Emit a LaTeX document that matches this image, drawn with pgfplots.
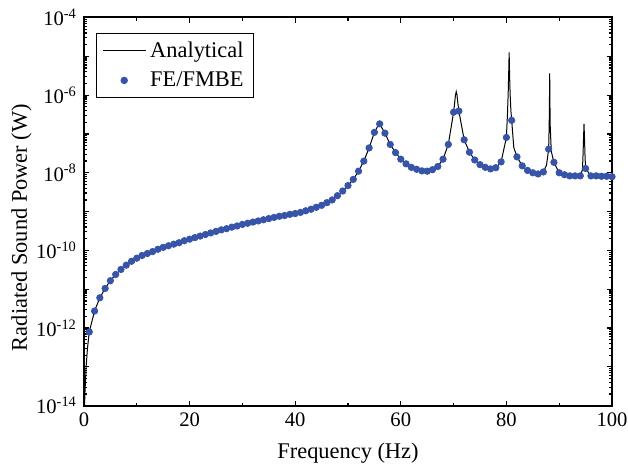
\documentclass[border=0pt]{standalone}
\usepackage{fontspec}
\setmainfont{Liberation Serif}
\usepackage{pgfplots}
\pgfplotsset{compat=1.18}
\definecolor{dotblue}{RGB}{56,84,168}

% FE/FMBE results, one point per Hz
\pgfplotstableread{
f     p
1     7.94e-13
2     2.75e-12
3     6.03e-12
4     1.05e-11
5     1.66e-11
6     2.40e-11
7     3.24e-11
8     4.17e-11
9     5.25e-11
10    6.31e-11
11    7.41e-11
12    8.32e-11
13    9.33e-11
14    1.07e-10
15    1.20e-10
16    1.32e-10
17    1.45e-10
18    1.58e-10
19    1.78e-10
20    1.95e-10
21    2.14e-10
22    2.34e-10
23    2.57e-10
24    2.82e-10
25    3.09e-10
26    3.39e-10
27    3.63e-10
28    3.98e-10
29    4.27e-10
30    4.68e-10
31    5.01e-10
32    5.37e-10
33    5.75e-10
34    6.17e-10
35    6.61e-10
36    7.08e-10
37    7.59e-10
38    7.94e-10
39    8.51e-10
40    8.91e-10
41    9.55e-10
42    1.05e-9
43    1.15e-9
44    1.29e-9
45    1.45e-9
46    1.70e-9
47    2.00e-9
48    2.57e-9
49    3.39e-9
50    4.68e-9
51    6.76e-9
52    1.10e-8
53    2.00e-8
54    4.37e-8
55    1.10e-7
56    1.82e-7
57    1.05e-7
58    5.37e-8
59    3.31e-8
60    2.24e-8
61    1.70e-8
62    1.38e-8
63    1.23e-8
64    1.12e-8
65    1.10e-8
66    1.20e-8
67    1.45e-8
68    2.24e-8
69    5.37e-8
70    3.63e-7
71    3.89e-7
72    7.08e-8
73    3.39e-8
74    2.14e-8
75    1.62e-8
76    1.38e-8
77    1.26e-8
78    1.35e-8
79    1.91e-8
80    8.13e-8
81    2.24e-7
82    2.57e-8
83    1.51e-8
84    1.15e-8
85    1.00e-8
86    9.33e-9
87    1.05e-8
88    4.07e-8
89    1.86e-8
90    1.00e-8
91    8.91e-9
92    8.32e-9
93    8.32e-9
94    8.32e-9
95    1.29e-8
96    8.32e-9
97    8.32e-9
98    8.13e-9
99    8.13e-9
100   7.94e-9
}\fembe

% analytical curve, denser around the resonances
\pgfplotstableread{
f     p
0.1   1.0e-14
0.2   2.51e-14
0.4   1.0e-13
0.65  2.95e-13
1     7.94e-13
2     2.75e-12
3     6.03e-12
4     1.05e-11
5     1.66e-11
6     2.40e-11
7     3.24e-11
8     4.17e-11
9     5.25e-11
10    6.31e-11
11    7.41e-11
12    8.32e-11
13    9.33e-11
14    1.07e-10
15    1.20e-10
16    1.32e-10
17    1.45e-10
18    1.58e-10
19    1.78e-10
20    1.95e-10
21    2.14e-10
22    2.34e-10
23    2.57e-10
24    2.82e-10
25    3.09e-10
26    3.39e-10
27    3.63e-10
28    3.98e-10
29    4.27e-10
30    4.68e-10
31    5.01e-10
32    5.37e-10
33    5.75e-10
34    6.17e-10
35    6.61e-10
36    7.08e-10
37    7.59e-10
38    7.94e-10
39    8.51e-10
40    8.91e-10
41    9.55e-10
42    1.05e-9
43    1.15e-9
44    1.29e-9
45    1.45e-9
46    1.70e-9
47    2.00e-9
48    2.57e-9
49    3.39e-9
50    4.68e-9
51    6.76e-9
52    1.10e-8
53    2.00e-8
54    4.37e-8
55    1.10e-7
55.9  1.86e-7
56    1.82e-7
57    1.05e-7
58    5.37e-8
59    3.31e-8
60    2.24e-8
61    1.70e-8
62    1.38e-8
63    1.23e-8
64    1.12e-8
65    1.10e-8
66    1.20e-8
67    1.45e-8
68    2.24e-8
69    5.37e-8
70    3.63e-7
70.2  6.31e-7
70.35 1.0e-6
70.5  1.23e-6
70.65 1.0e-6
70.8  6.31e-7
71    3.89e-7
72    7.08e-8
73    3.39e-8
74    2.14e-8
75    1.62e-8
76    1.38e-8
77    1.26e-8
78    1.35e-8
79    1.91e-8
80    8.13e-8
80.2  3.16e-7
80.35 1.26e-6
80.45 4.47e-6
80.52 1.26e-5
80.6  3.55e-6
80.7  1.12e-6
80.85 3.98e-7
81    2.24e-7
81.4  4.47e-8
82    2.57e-8
83    1.51e-8
84    1.15e-8
85    1.00e-8
86    9.33e-9
87    1.05e-8
87.6  1.58e-8
88    4.07e-8
88.1  1.58e-7
88.15 5.62e-7
88.2  3.63e-6
88.25 5.62e-7
88.3  1.58e-7
88.5  3.55e-8
89    1.86e-8
90    1.00e-8
91    8.91e-9
92    8.32e-9
93    8.32e-9
94    8.32e-9
94.4  1.20e-8
94.5  2.51e-8
94.6  7.08e-8
94.7  1.82e-7
94.8  7.08e-8
94.9  2.51e-8
95    1.29e-8
96    8.32e-9
97    8.32e-9
98    8.13e-9
99    8.13e-9
100   7.94e-9
}\analytic

\begin{document}
\begin{tikzpicture}
\path[use as bounding box] (-42pt,-29.65pt) rectangle (272pt,202.85pt);
\begin{axis}[
    at={(0,0)}, anchor=south west,
    scale only axis,
    width=264pt, height=194.1pt,
    xmin=0, xmax=100,
    ymode=log, ymin=1e-14, ymax=1e-4,
    xtick={0,20,40,60,80,100},
    xticklabels={0,20,40,60,80,100},
    minor xtick={10,30,50,70,90},
    ytick={1e-14,1e-13,1e-12,1e-11,1e-10,1e-9,1e-8,1e-7,1e-6,1e-5,1e-4},
    yticklabels={10\textsuperscript{-14},,10\textsuperscript{-12},,10\textsuperscript{-10},,10\textsuperscript{-8},,10\textsuperscript{-6},,10\textsuperscript{-4}},
    minor y tick num=0,
    major tick length=2.6pt,
    minor tick length=1.6pt,
    every tick/.style={black, line width=0.6pt},
    axis line style={line width=1pt},
    tick label style={font=\fontsize{10.3}{12}\selectfont},
    label style={font=\fontsize{11.2}{13}\selectfont},
    xlabel={Frequency (Hz)},
    ylabel={Radiated Sound Power (W)},
    xlabel style={at={(axis description cs:0.5,-0.135)}, anchor=base},
    ylabel style={at={(axis description cs:-0.108,0.459)}, anchor=base},
    legend cell align=left,
    legend style={at={(0.0222,0.9598)}, anchor=north west, draw=black,
        line width=0.5pt, font=\fontsize{11.2}{13}\selectfont,
        inner xsep=3pt, inner ysep=2pt, row sep=1.7pt},
    legend image code/.code={\draw[mark repeat=2,mark phase=2,#1]
        plot coordinates {(0pt,0pt) (10.75pt,0pt) (21.5pt,0pt)};},
]
\addplot[black, line width=0.5pt, mark=none] table[x=f, y=p] {\analytic};
\addlegendentry{Analytical}
\addplot[only marks, mark=*, mark size=1.6pt, color=dotblue] table[x=f, y=p] {\fembe};
\addlegendentry{FE/FMBE}
\end{axis}
\end{tikzpicture}
\end{document}
